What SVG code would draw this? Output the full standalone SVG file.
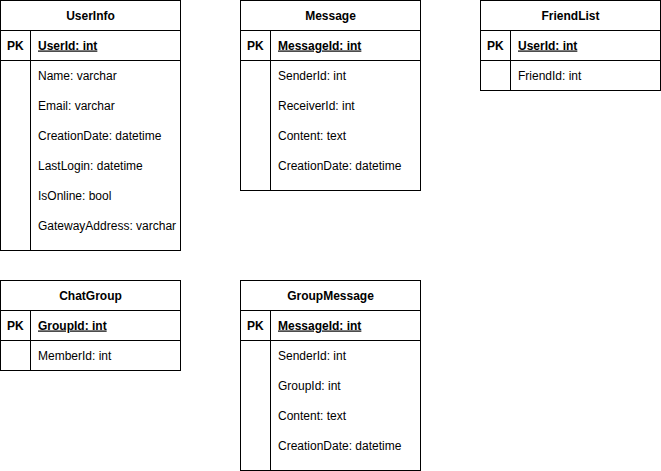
<svg xmlns="http://www.w3.org/2000/svg" width="661" height="471" viewBox="0 0 661 471">
<style>
rect{fill:#fff;stroke:#000;stroke-width:1}
line{stroke:#000;stroke-width:1}
text{font-family:"Liberation Sans",Arial,Helvetica,sans-serif;font-size:12px;fill:#000}
.h{font-weight:bold;text-anchor:middle}
.pk{font-weight:bold}
.k{font-weight:bold;text-decoration:underline}
</style>
<rect width="661" height="471" style="stroke:none;fill:#fff"/>
<g id="UserInfo">
<rect x="0.5" y="0.5" width="180" height="250"/>
<line x1="0.5" y1="30.5" x2="180.5" y2="30.5"/>
<line x1="0.5" y1="60.5" x2="180.5" y2="60.5"/>
<line x1="30.5" y1="30.5" x2="30.5" y2="250.5"/>
<text class="h" x="90.5" y="19.5">UserInfo</text>
<text class="pk" x="7" y="49.5">PK</text>
<text class="k" x="38" y="49.5">UserId: int</text>
<text x="38" y="79.5">Name: varchar</text>
<text x="38" y="109.5">Email: varchar</text>
<text x="38" y="139.5">CreationDate: datetime</text>
<text x="38" y="169.5">LastLogin: datetime</text>
<text x="38" y="199.5">IsOnline: bool</text>
<text x="38" y="229.5">GatewayAddress: varchar</text>
</g>
<g id="Message">
<rect x="240.5" y="0.5" width="180" height="190"/>
<line x1="240.5" y1="30.5" x2="420.5" y2="30.5"/>
<line x1="240.5" y1="60.5" x2="420.5" y2="60.5"/>
<line x1="270.5" y1="30.5" x2="270.5" y2="190.5"/>
<text class="h" x="330.5" y="19.5">Message</text>
<text class="pk" x="247" y="49.5">PK</text>
<text class="k" x="278" y="49.5">MessageId: int</text>
<text x="278" y="79.5">SenderId: int</text>
<text x="278" y="109.5">ReceiverId: int</text>
<text x="278" y="139.5">Content: text</text>
<text x="278" y="169.5">CreationDate: datetime</text>
</g>
<g id="FriendList">
<rect x="480.5" y="0.5" width="180" height="90"/>
<line x1="480.5" y1="30.5" x2="660.5" y2="30.5"/>
<line x1="480.5" y1="60.5" x2="660.5" y2="60.5"/>
<line x1="510.5" y1="30.5" x2="510.5" y2="90.5"/>
<text class="h" x="570.5" y="19.5">FriendList</text>
<text class="pk" x="487" y="49.5">PK</text>
<text class="k" x="518" y="49.5">UserId: int</text>
<text x="518" y="79.5">FriendId: int</text>
</g>
<g id="ChatGroup">
<rect x="0.5" y="280.5" width="180" height="90"/>
<line x1="0.5" y1="310.5" x2="180.5" y2="310.5"/>
<line x1="0.5" y1="340.5" x2="180.5" y2="340.5"/>
<line x1="30.5" y1="310.5" x2="30.5" y2="370.5"/>
<text class="h" x="90.5" y="299.5">ChatGroup</text>
<text class="pk" x="7" y="329.5">PK</text>
<text class="k" x="38" y="329.5">GroupId: int</text>
<text x="38" y="359.5">MemberId: int</text>
</g>
<g id="GroupMessage">
<rect x="240.5" y="280.5" width="180" height="190"/>
<line x1="240.5" y1="310.5" x2="420.5" y2="310.5"/>
<line x1="240.5" y1="340.5" x2="420.5" y2="340.5"/>
<line x1="270.5" y1="310.5" x2="270.5" y2="470.5"/>
<text class="h" x="330.5" y="299.5">GroupMessage</text>
<text class="pk" x="247" y="329.5">PK</text>
<text class="k" x="278" y="329.5">MessageId: int</text>
<text x="278" y="359.5">SenderId: int</text>
<text x="278" y="389.5">GroupId: int</text>
<text x="278" y="419.5">Content: text</text>
<text x="278" y="449.5">CreationDate: datetime</text>
</g>
<g id="connectors"></g>
</svg>
